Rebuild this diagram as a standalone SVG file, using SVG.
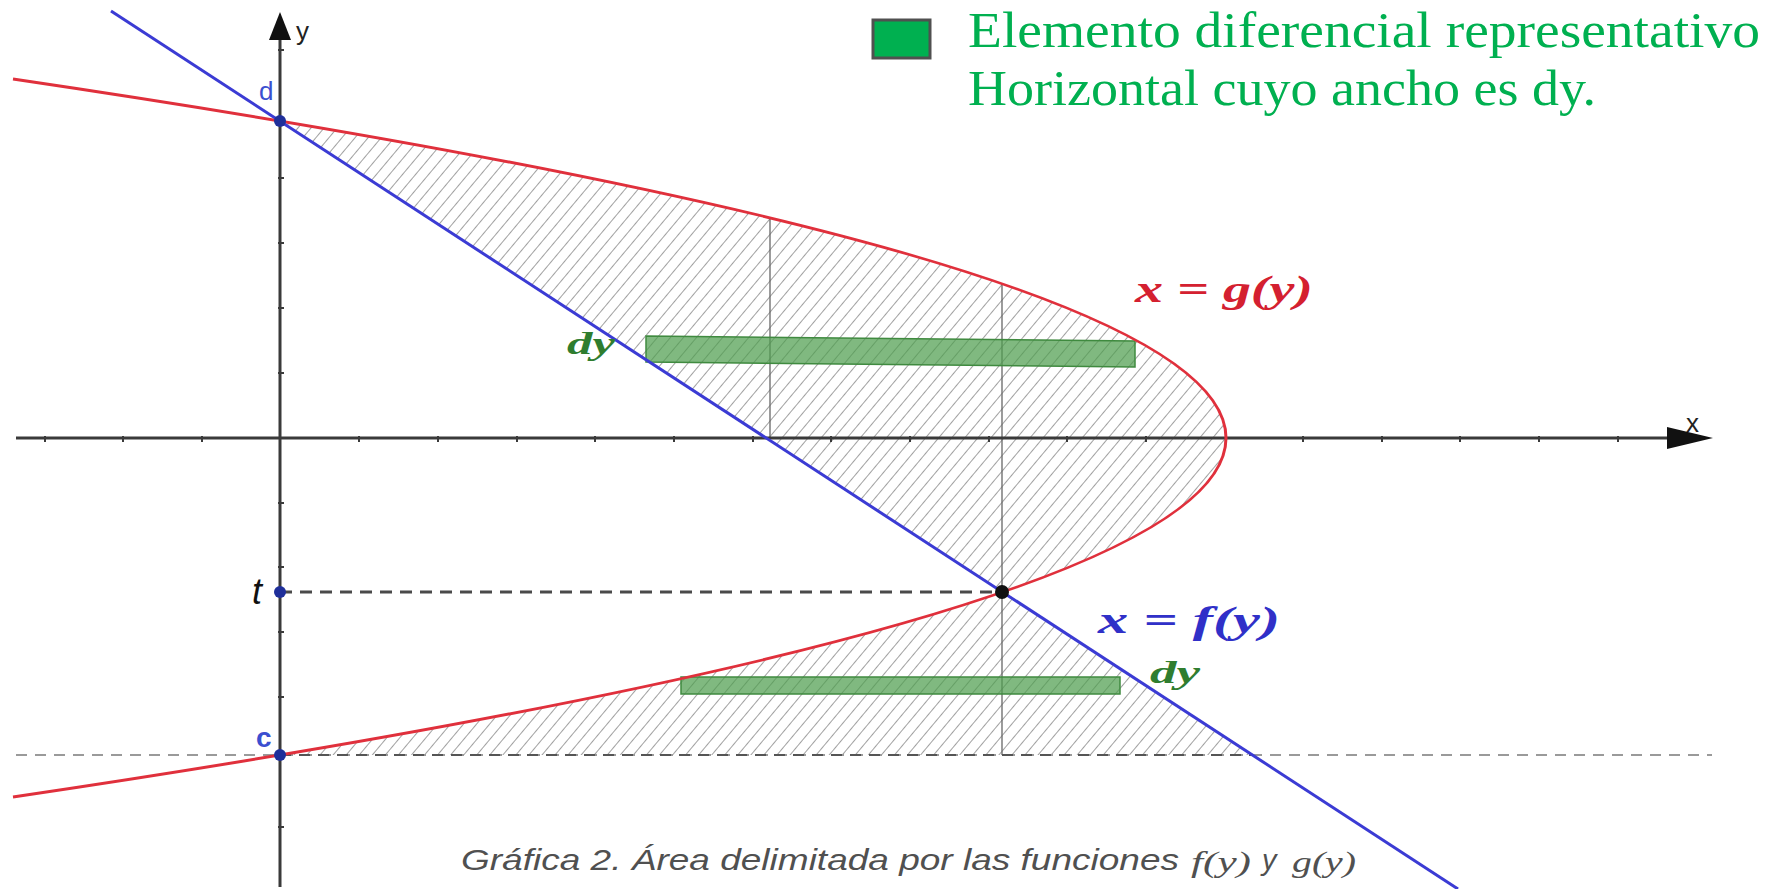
<svg xmlns="http://www.w3.org/2000/svg" width="1772" height="889" viewBox="0 0 1772 889">
  <defs>
    <pattern id="hatch" patternUnits="userSpaceOnUse" width="10" height="10" patternTransform="rotate(40)">
      <line x1="0" y1="0" x2="0" y2="10" stroke="#6e6e6e" stroke-width="1.3"/>
    </pattern>
    <style>
      .axis { stroke:#3a3a3a; stroke-width:3; fill:none; }
      .tick { stroke:#3a3a3a; stroke-width:2; }
      .guide { stroke:#666; stroke-width:1.3; fill:none; }
      .red { stroke:#e0303c; stroke-width:3; fill:none; }
      .blue { stroke:#3b3bd4; stroke-width:3; fill:none; }
      .strip { fill:#4f9e4f; fill-opacity:0.72; stroke:#3f8a3f; stroke-width:1.5; }
      .pt { fill:#1f2f9a; }
      .math { font-family:"Liberation Serif","DejaVu Serif",serif; font-style:italic; font-weight:bold; }
      .legend { font-family:"Liberation Serif","DejaVu Serif",serif; fill:#00b050; font-size:50px; }
      .cap { font-family:"Liberation Sans","DejaVu Sans",sans-serif; font-style:italic; fill:#505050; font-size:29px; }
      .capm { font-family:"Liberation Serif","DejaVu Serif",serif; font-style:italic; fill:#505050; font-size:29px; }
    </style>
  </defs>
  <rect width="1772" height="889" fill="#ffffff"/>

  <g id="region">
    <path d="M280,121 Q1685.5,356.5 1002.7,592 L280,121 Z" fill="url(#hatch)"/>
    <path d="M1002.7,592 Q766.4,673.5 280,755 L1252,755 Z" fill="url(#hatch)"/>
  </g>

  <g id="guides">
    <line class="guide" x1="770" y1="218" x2="770" y2="437"/>
    <line class="guide" x1="1002" y1="284" x2="1002" y2="755"/>
    <line x1="16" y1="755" x2="1712" y2="755" stroke="#9a9a9a" stroke-width="2" stroke-dasharray="11 8"/>
    <line x1="280" y1="755" x2="1252" y2="755" stroke="#555" stroke-width="2" stroke-dasharray="11 8"/>
    <line x1="280" y1="592" x2="1000" y2="592" stroke="#4a4a4a" stroke-width="3" stroke-dasharray="12 8"/>
  </g>

  <g id="axes">
    <line class="axis" x1="16" y1="438" x2="1670" y2="438"/>
    <polygon points="1667,427 1713,438 1667,449" fill="#111"/>
    <line class="axis" x1="280" y1="887" x2="280" y2="38"/>
    <polygon points="269,40 280,12 291,40" fill="#111"/>
    <g id="xticks">
      <line class="tick" x1="45" y1="436" x2="45" y2="442"/>
      <line class="tick" x1="123" y1="436" x2="123" y2="442"/>
      <line class="tick" x1="202" y1="436" x2="202" y2="442"/>
      <line class="tick" x1="359" y1="436" x2="359" y2="442"/>
      <line class="tick" x1="438" y1="436" x2="438" y2="442"/>
      <line class="tick" x1="517" y1="436" x2="517" y2="442"/>
      <line class="tick" x1="595" y1="436" x2="595" y2="442"/>
      <line class="tick" x1="674" y1="436" x2="674" y2="442"/>
      <line class="tick" x1="753" y1="436" x2="753" y2="442"/>
      <line class="tick" x1="831" y1="436" x2="831" y2="442"/>
      <line class="tick" x1="910" y1="436" x2="910" y2="442"/>
      <line class="tick" x1="989" y1="436" x2="989" y2="442"/>
      <line class="tick" x1="1067" y1="436" x2="1067" y2="442"/>
      <line class="tick" x1="1146" y1="436" x2="1146" y2="442"/>
      <line class="tick" x1="1303" y1="436" x2="1303" y2="442"/>
      <line class="tick" x1="1382" y1="436" x2="1382" y2="442"/>
      <line class="tick" x1="1460" y1="436" x2="1460" y2="442"/>
      <line class="tick" x1="1539" y1="436" x2="1539" y2="442"/>
      <line class="tick" x1="1618" y1="436" x2="1618" y2="442"/>
    </g>
    <g id="yticks">
      <line class="tick" x1="278" y1="50" x2="284" y2="50"/>
      <line class="tick" x1="278" y1="178" x2="284" y2="178"/>
      <line class="tick" x1="278" y1="243" x2="284" y2="243"/>
      <line class="tick" x1="278" y1="308" x2="284" y2="308"/>
      <line class="tick" x1="278" y1="373" x2="284" y2="373"/>
      <line class="tick" x1="278" y1="503" x2="284" y2="503"/>
      <line class="tick" x1="278" y1="567" x2="284" y2="567"/>
      <line class="tick" x1="278" y1="632" x2="284" y2="632"/>
      <line class="tick" x1="278" y1="697" x2="284" y2="697"/>
      <line class="tick" x1="278" y1="827" x2="284" y2="827"/>
    </g>
    <text x="296" y="40" font-family="Liberation Sans, DejaVu Sans, sans-serif" font-size="26" fill="#222">y</text>
    <text x="1686" y="432" font-family="Liberation Sans, DejaVu Sans, sans-serif" font-size="26" fill="#222">x</text>
  </g>

  <g id="strips">
    <polygon class="strip" points="646,336 1135,341 1135,367 646,362"/>
    <rect class="strip" x="681" y="677" width="439" height="17"/>
  </g>

  <g id="curves">
    <path id="g-curve" class="red" d="M13,79 Q2439,438 13,797"/>
    <line id="f-line" class="blue" x1="111" y1="11" x2="1458" y2="889"/>
  </g>

  <g id="point-d">
    <circle class="pt" cx="280" cy="121" r="6"/>
    <text x="259" y="100" font-family="Liberation Sans, DejaVu Sans, sans-serif" font-size="26" fill="#3b4fd0">d</text>
  </g>
  <g id="point-t">
    <circle class="pt" cx="280" cy="592" r="6"/>
    <text x="252" y="604" font-family="Liberation Sans, DejaVu Sans, sans-serif" font-style="italic" font-size="36" fill="#111">t</text>
  </g>
  <g id="point-c">
    <circle class="pt" cx="280" cy="755" r="6"/>
    <text x="256" y="747" font-family="Liberation Sans, DejaVu Sans, sans-serif" font-weight="bold" font-size="28" fill="#3b4fd0">c</text>
  </g>
  <g id="point-intersection">
    <circle cx="1002" cy="592" r="7" fill="#111"/>
  </g>

  <g id="labels">
    <text class="math" x="1135" y="302" font-size="38" fill="#d42030" textLength="178" lengthAdjust="spacingAndGlyphs">x = g(y)</text>
    <text class="math" x="1098" y="633" font-size="38" fill="#3030c8" textLength="182" lengthAdjust="spacingAndGlyphs">x = f(y)</text>
    <text class="math" x="567" y="354" font-size="32" fill="#2f7d2f" textLength="48" lengthAdjust="spacingAndGlyphs">dy</text>
    <text class="math" x="1150" y="683" font-size="32" fill="#2f7d2f" textLength="50" lengthAdjust="spacingAndGlyphs">dy</text>
  </g>

  <g id="legend">
    <rect x="873" y="20" width="57" height="38" fill="#00b050" stroke="#505050" stroke-width="3"/>
    <text class="legend" x="968" y="47" textLength="792" lengthAdjust="spacingAndGlyphs">Elemento diferencial representativo</text>
    <text class="legend" x="968" y="105" textLength="628" lengthAdjust="spacingAndGlyphs">Horizontal cuyo ancho es dy.</text>
  </g>

  <g id="caption">
    <text class="cap" x="461" y="870" textLength="718" lengthAdjust="spacingAndGlyphs">Gráfica 2. Área delimitada por las funciones</text>
    <text class="capm" x="1191" y="872" textLength="60" lengthAdjust="spacingAndGlyphs">f(y)</text>
    <text class="cap" x="1262" y="870">y</text>
    <text class="capm" x="1292" y="872" textLength="64" lengthAdjust="spacingAndGlyphs">g(y)</text>
  </g>
</svg>
